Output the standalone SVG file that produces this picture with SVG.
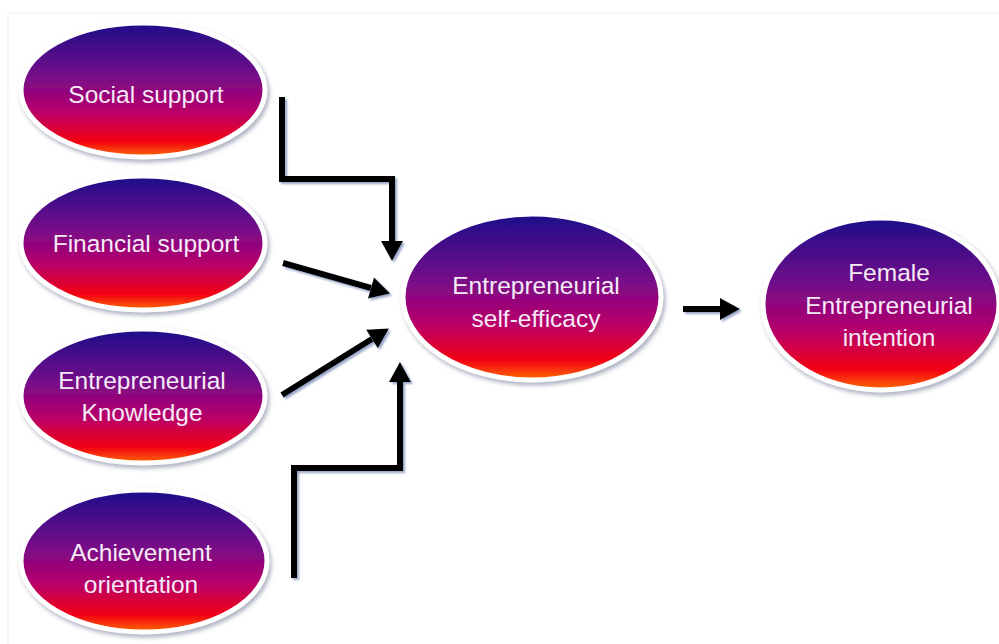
<svg xmlns="http://www.w3.org/2000/svg" width="999" height="644" viewBox="0 0 999 644">
<defs>
<linearGradient id="g" x1="0" y1="0" x2="0" y2="1">
<stop offset="0" stop-color="#1c0c8a"/>
<stop offset="0.4" stop-color="#760a88"/>
<stop offset="0.66" stop-color="#b8006a"/>
<stop offset="0.88" stop-color="#f20014"/>
<stop offset="1" stop-color="#ff6a00"/>
</linearGradient>
<filter id="ns" x="-10%" y="-10%" width="125%" height="130%">
<feDropShadow dx="2" dy="3" stdDeviation="2" flood-color="#8a93a8" flood-opacity="0.7"/>
</filter>
<filter id="as" x="-20%" y="-20%" width="140%" height="140%">
<feDropShadow dx="2" dy="2" stdDeviation="1" flood-color="#7f8fb8" flood-opacity="0.8"/>
</filter>
<marker id="ah" markerUnits="userSpaceOnUse" markerWidth="21" markerHeight="24" viewBox="0 -12 20 24" refX="0" refY="0" orient="auto">
<path d="M0,-11 L20,0 L0,11 z" fill="#000"/>
</marker>
</defs>
<style>
.n ellipse{fill:url(#g);stroke:#fff;stroke-width:5;filter:url(#ns)}
.n text{font-family:"Liberation Sans",Arial,sans-serif;font-size:24.5px;fill:#f6eaf6;text-anchor:middle}
.c{fill:none;stroke:#000;stroke-width:6;stroke-linejoin:miter;marker-end:url(#ah)}
</style>
<rect x="0" y="0" width="999" height="644" fill="#fff"/>
<rect x="8" y="13" width="1000" height="640" fill="none" stroke="#f0f0f0" stroke-width="1"/>
<g id="social" class="n">
<ellipse cx="143" cy="90" rx="122" ry="67"/>
<text x="146" y="103">Social support</text>
</g>
<g id="financial" class="n">
<ellipse cx="143" cy="243" rx="122" ry="67"/>
<text x="146" y="252">Financial support</text>
</g>
<g id="knowledge" class="n">
<ellipse cx="143" cy="396" rx="122" ry="67"/>
<text x="142" y="389">Entrepreneurial</text>
<text x="142" y="421">Knowledge</text>
</g>
<g id="achievement" class="n">
<ellipse cx="144" cy="561" rx="123" ry="71"/>
<text x="141" y="561">Achievement</text>
<text x="141" y="593">orientation</text>
</g>
<g id="selfefficacy" class="n">
<ellipse cx="532" cy="297" rx="129" ry="83"/>
<text x="536" y="294">Entrepreneurial</text>
<text x="536" y="327">self-efficacy</text>
</g>
<g id="intention" class="n">
<ellipse cx="881" cy="304" rx="118" ry="86"/>
<text x="889" y="281">Female</text>
<text x="889" y="314">Entrepreneurial</text>
<text x="889" y="346">intention</text>
</g>
<g id="connectors" filter="url(#as)">
<polyline class="c" points="282,97 282,179 392,179 392,241"/>
<line class="c" x1="283" y1="263" x2="371" y2="288"/>
<line class="c" x1="282" y1="395" x2="372" y2="339"/>
<polyline class="c" points="294,578 294,468 400,468 400,382"/>
<line class="c" x1="683" y1="309" x2="720" y2="309"/>
</g>
</svg>
